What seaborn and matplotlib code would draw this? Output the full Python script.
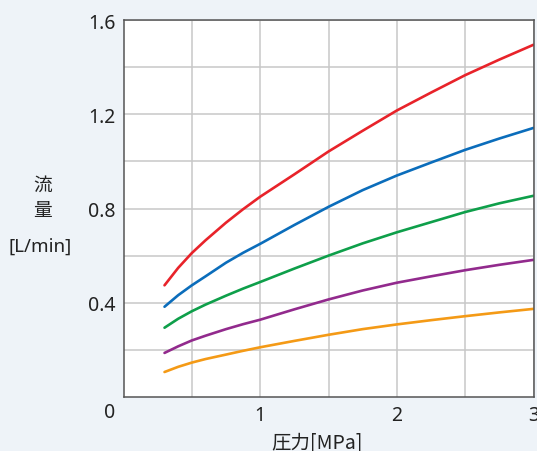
import numpy as np
import pandas as pd
import matplotlib
matplotlib.use("Agg")
import matplotlib.pyplot as plt
import seaborn as sns

# pressure [MPa] and flow [L/min]
pressure = [0.3, 0.4, 0.5, 0.6, 0.75, 0.875, 1.0, 1.25, 1.5, 1.75, 2.0, 2.25, 2.5, 2.75, 3.0]
flow_red = [0.474, 0.548, 0.611, 0.665, 0.74, 0.797, 0.85, 0.945, 1.042, 1.13, 1.216, 1.292, 1.366, 1.432, 1.495]
flow_blue = [0.383, 0.432, 0.474, 0.512, 0.57, 0.612, 0.65, 0.73, 0.807, 0.878, 0.94, 0.995, 1.049, 1.097, 1.142]
flow_green = [0.294, 0.332, 0.364, 0.392, 0.43, 0.46, 0.488, 0.545, 0.6, 0.652, 0.699, 0.742, 0.785, 0.822, 0.854]
flow_purple = [0.187, 0.215, 0.24, 0.26, 0.288, 0.309, 0.328, 0.372, 0.414, 0.452, 0.485, 0.512, 0.538, 0.561, 0.582]
flow_orange = [0.106, 0.128, 0.146, 0.161, 0.18, 0.196, 0.211, 0.238, 0.264, 0.288, 0.308, 0.326, 0.343, 0.359, 0.374]

series_names = ["red", "blue", "green", "purple", "orange"]
series_vals = [flow_red, flow_blue, flow_green, flow_purple, flow_orange]
palette = ["#e8232a", "#0b6dbb", "#0e9f4a", "#922a8d", "#f49a16"]

rows = []
for name, vals in zip(series_names, series_vals):
    for p, f in zip(pressure, vals):
        rows.append({"pressure": p, "flow": f, "series": name})
df = pd.DataFrame(rows)

sns.set_style("white")
plt.rcParams["font.family"] = ["Noto Sans", "Noto Sans CJK JP", "DejaVu Sans"]

bg = "#eef3f8"
txt = "#222222"
fig = plt.figure(figsize=(5.37, 4.52), dpi=100, facecolor=bg)
ax = fig.add_axes([0.230, 0.1195, 0.7635, 0.834])
ax.set_facecolor("white")

sns.lineplot(data=df, x="pressure", y="flow", hue="series", palette=palette,
             hue_order=series_names, linewidth=1.9, legend=False, ax=ax)

ax.set_xlim(0, 3)
ax.set_ylim(0, 1.6)
ax.set_xticks([1, 2, 3])
ax.set_xticklabels(["1", "2", "3"])
ax.set_yticks([0.4, 0.8, 1.2, 1.6])
ax.set_yticklabels(["0.4", "0.8", "1.2", "1.6"])
ax.set_xticks(np.arange(0.5, 3, 0.5), minor=True)
ax.set_yticks(np.arange(0.2, 1.6, 0.2), minor=True)
ax.grid(which="both", color="#c8c8c8", linewidth=1.1)
ax.tick_params(which="both", length=0, labelsize=14, colors=txt, pad=6)
ax.set_axisbelow(True)
for s in ax.spines.values():
    s.set_color("#555555")
    s.set_linewidth(1.1)
ax.set_xlabel("")
ax.set_ylabel("")

# corner zero label
fig.text(110 / 537, 1 - 413 / 452, "0", fontsize=14, color=txt,
         ha="center", va="center")

# axis titles
fig.text(43 / 537, 1 - 185 / 452, "流", fontsize=13.5, color=txt,
         ha="center", va="center", family=["Noto Sans CJK JP"])
fig.text(43 / 537, 1 - 211 / 452, "量", fontsize=13.5, color=txt,
         ha="center", va="center", family=["Noto Sans CJK JP"])
fig.text(40 / 537, 1 - 247 / 452, "[L/min]", fontsize=13.5, color=txt,
         ha="center", va="center")
fig.text(317 / 537, 1 - 443 / 452, "圧力[MPa]", fontsize=14, color=txt,
         ha="center", va="center", family=["Noto Sans CJK JP", "Noto Sans"])

fig.savefig("out.png", dpi=100, facecolor=bg)
